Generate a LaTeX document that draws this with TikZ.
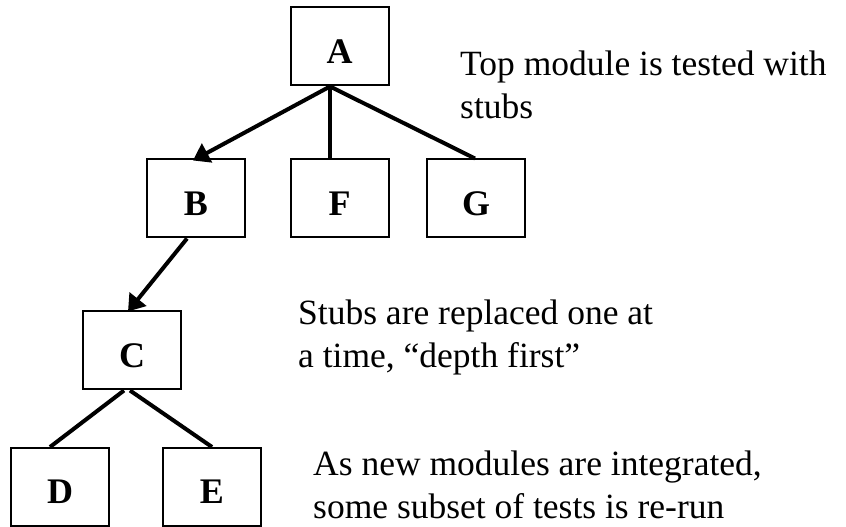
\documentclass[tikz,border=0pt]{standalone}
\usepackage{fontspec}
\setmainfont{Liberation Serif}
\usetikzlibrary{arrows.meta,calc}
\begin{document}
\begin{tikzpicture}[x=1pt,y=1pt,
  modbox/.style={draw=black,line width=2pt,minimum width=98pt,minimum height=78pt,inner sep=0pt,
    font=\fontsize{36}{40}\selectfont\bfseries,text height=34pt,text depth=0pt},
  conn/.style={line width=4pt},
  arr/.style={conn,-{Triangle[width=21pt,length=16pt]}},
  note/.style={anchor=base west,align=left,inner sep=0pt,font=\fontsize{35.5}{43}\selectfont}]
\useasboundingbox (0,0) rectangle (846,527);
\node[modbox] (A) at (339.5,480.5) {A};
\node[modbox] (B) at (196,328.5) {B};
\node[modbox] (F) at (339.5,328.5) {F};
\node[modbox] (G) at (476,328.5) {G};
\node[modbox] (C) at (132,176.5) {C};
\node[modbox] (D) at (60,40) {D};
\node[modbox] (E) at (212,40) {E};
\coordinate (Aj) at ($(A.south)+(-9.5,0)$);
\draw[arr] (Aj) -- ($(B.north)+(-3,-2)$);
\draw[conn] (Aj) -- ($(F.north)+(-9.5,0)$);
\draw[conn] (Aj) -- ($(G.north)+(-1,0)$);
\draw[arr] ($(B.south)+(-9,0)$) -- ($(C.north)+(-4,-1)$);
\draw[conn] ($(C.south)+(-8,0)$) -- ($(D.north)+(-10,0)$);
\draw[conn] ($(C.south)+(-2,0)$) -- (E.north);
\node[note] (t1) at (460,408) {Top module is tested with\\stubs};
\node[note] (t2) at (298,159) {Stubs are replaced one at\\a time, ``depth first''};
\node[note] (t3) at (313,8) {As new modules are integrated,\\some subset of tests is re-run};
\end{tikzpicture}
\end{document}
